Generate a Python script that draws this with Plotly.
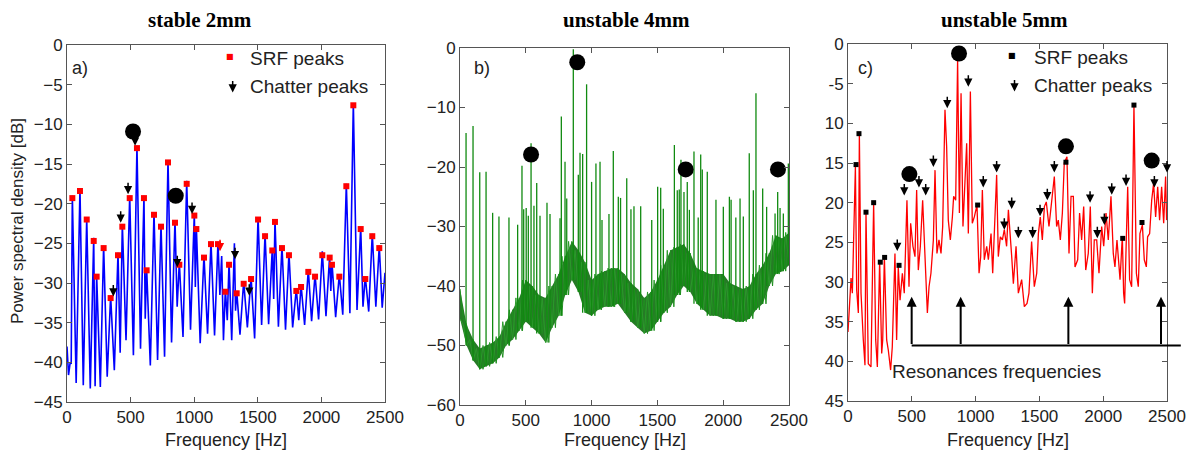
import plotly.graph_objects as go

# ---------------- panel a : stable 2mm ----------------
a_peak_f = [42, 102, 155, 210, 233, 288, 343, 401, 435, 493, 550, 605, 626, 684, 739, 794, 849, 883, 941,
            1001, 1017, 1077, 1132, 1187, 1216, 1245, 1274, 1316, 1334, 1389, 1447, 1502, 1557, 1614, 1635,
            1690, 1745, 1803, 1840, 1897, 1950, 2007, 2065, 2083, 2141, 2196, 2251, 2309, 2345, 2400, 2455]
a_peak_db = [-19.0, -18.1, -21.8, -24.3, -29.0, -25.3, -31.6, -26.2, -22.6, -19.0, -12.7, -19.0, -28.1, -21.1,
             -22.6, -14.5, -22.1, -27.4, -17.1, -21.2, -22.9, -26.5, -24.8, -24.8, -26.6, -30.8, -27.4, -25.0,
             -31.0, -29.8, -29.2, -21.7, -23.8, -25.6, -22.0, -25.3, -26.2, -30.7, -30.2, -28.3, -28.9, -26.0,
             -26.5, -27.4, -28.9, -17.5, -7.3, -22.9, -29.2, -23.8, -25.3]
a_trough_f = [0, 12, 25, 33, 72, 128, 183, 221, 262, 316, 372, 418, 464, 522, 578, 615, 655, 712, 767, 822,
              866, 912, 971, 1009, 1047, 1105, 1160, 1202, 1230, 1260, 1295, 1325, 1360, 1418, 1475, 1530,
              1585, 1625, 1662, 1718, 1774, 1822, 1868, 1923, 1978, 2036, 2074, 2112, 2168, 2224, 2280, 2327,
              2372, 2428, 2478, 2500]
a_trough_db = [-38.0, -41.6, -40.0, -40.2, -42.6, -42.9, -43.3, -43.0, -43.1, -41.8, -41.0, -38.8, -37.2,
               -39.1, -38.3, -34.5, -40.4, -39.7, -39.3, -37.5, -33.0, -36.8, -35.9, -30.5, -37.6, -36.4,
               -36.6, -31.5, -37.2, -34.7, -37.2, -33.5, -36.5, -35.6, -37.0, -35.3, -35.2, -32.0, -35.5,
               -35.9, -35.6, -34.7, -35.3, -34.8, -34.6, -34.2, -31.0, -34.3, -34.0, -33.8, -33.4, -33.0,
               -33.6, -33.0, -33.1, -28.7]
a_srf_f = [42, 102, 155, 210, 233, 288, 343, 401, 435, 493, 550, 605, 626, 684, 739, 794, 849, 883, 941,
           1001, 1017, 1077, 1132, 1187, 1245, 1274, 1334, 1389, 1447, 1502, 1557, 1614, 1635, 1690, 1745,
           1803, 1840, 1897, 1950, 2007, 2065, 2083, 2141, 2196, 2251, 2309, 2345, 2400, 2455]
a_srf_db = [-19.3, -18.4, -22.0, -24.7, -29.2, -25.6, -31.9, -26.5, -22.9, -19.3, -13.0, -19.3, -28.4, -21.4,
            -22.9, -14.8, -22.4, -27.7, -17.5, -21.5, -23.2, -26.8, -25.1, -25.1, -31.1, -27.7, -31.3, -30.1,
            -29.5, -22.0, -24.1, -25.9, -22.3, -25.6, -26.5, -31.0, -30.5, -28.6, -29.2, -26.5, -26.8, -27.7,
            -29.2, -17.8, -7.6, -23.2, -29.5, -24.1, -25.6]
a_chat_f = [364, 422, 480, 535, 867, 983, 1203, 1321, 1433]
a_chat_db = [-31.7, -22.4, -18.8, -12.7, -28.0, -21.3, -26.0, -27.0, -31.6]
a_chat_color = ["black", "black", "black", "black", "black", "black", "red", "black", "black"]
a_dot_f = [519, 855]
a_dot_db = [-10.9, -19.0]

# ---------------- panel b : unstable 4mm ----------------
b_grid_f = [0, 50, 100, 150, 200, 250, 300, 350, 400, 450, 500, 550, 600, 650, 700, 750, 800, 850, 900, 950,
            1000, 1050, 1100, 1150, 1200, 1250, 1300, 1350, 1400, 1450, 1500, 1550, 1600, 1650, 1700, 1750,
            1800, 1850, 1900, 1950, 2000, 2050, 2100, 2150, 2200, 2250, 2300, 2350, 2400, 2450, 2500]
b_hi = [-40.5, -46.5, -49.0, -50.5, -50.0, -49.5, -48.5, -46.0, -44.0, -42.0, -39.0, -40.0, -41.5, -42.0,
        -40.0, -38.0, -35.0, -32.5, -34.0, -36.0, -39.0, -38.0, -37.5, -37.0, -37.0, -38.0, -39.5, -40.5,
        -42.0, -41.0, -39.0, -36.5, -34.0, -33.5, -33.0, -34.5, -37.0, -37.5, -38.0, -38.0, -38.0, -39.5,
        -40.0, -40.5, -40.0, -38.0, -36.5, -34.5, -31.5, -32.0, -31.0]
b_lo = [-45.5, -50.0, -52.5, -54.0, -53.5, -53.0, -52.0, -50.0, -49.0, -47.5, -46.0, -47.0, -48.0, -49.5,
        -47.0, -45.0, -41.5, -39.0, -41.0, -44.5, -45.0, -44.0, -43.5, -43.5, -43.0, -44.5, -46.0, -47.0,
        -48.0, -47.5, -46.0, -44.5, -43.5, -41.5, -40.0, -41.0, -43.0, -44.0, -45.0, -45.0, -45.5, -45.5,
        -46.0, -46.0, -45.5, -44.0, -43.0, -40.0, -38.0, -37.5, -36.5]
b_spike_f = [46, 99, 150, 198, 248, 296, 372, 438, 471, 484, 503, 519, 540, 562, 583, 608, 661, 684, 760, 770,
             798, 811, 861, 899, 912, 932, 962, 1000, 1033, 1064, 1079, 1132, 1165, 1203, 1220, 1267, 1299,
             1322, 1373, 1457, 1502, 1525, 1545, 1629, 1651, 1666, 1679, 1702, 1727, 1743, 1778, 1810, 1829,
             1841, 1879, 1945, 2001, 2047, 2060, 2096, 2128, 2153, 2198, 2229, 2249, 2300, 2330, 2394, 2414,
             2432, 2457, 2495]
b_spike_db = [-14.3, -13.1, -20.9, -20.8, -27.7, -28.3, -28.5, -29.7, -19.8, -27.1, -26.9, -28.2, -16.0, -26.5,
              -22.7, -28.2, -26.0, -27.9, -28.6, -11.5, -19.1, -25.3, -0.2, -21.3, -17.6, -17.8, -6.1, -22.5,
              -19.4, -19.1, -28.9, -27.9, -17.3, -25.0, -25.2, -21.9, -27.1, -26.6, -26.6, -28.9, -23.3, -23.5,
              -27.0, -16.3, -23.9, -23.8, -18.8, -24.2, -22.5, -27.2, -17.4, -28.5, -17.9, -20.4, -20.8, -25.5,
              -26.7, -25.0, -25.5, -28.5, -25.3, -28.3, -17.7, -23.9, -7.6, -23.6, -26.7, -27.8, -24.2, -26.9,
              -27.8, -19.4]
b_dot_f = [540, 891, 1715, 2416]
b_dot_db = [-17.9, -2.4, -20.4, -20.4]

# ---------------- panel c : unstable 5mm ----------------
c_f = [0, 24, 34, 58, 68, 81, 89, 102, 120, 133, 141, 159, 180, 201, 217, 230, 248, 264, 272, 285, 303, 316,
       334, 347, 368, 381, 394, 408, 426, 441, 462, 478, 491, 509, 525, 538, 551, 567, 585, 603, 622, 635,
       650, 669, 682, 697, 713, 729, 742, 760, 773, 786, 802, 818, 828, 844, 859, 873, 886, 901, 917, 930,
       943, 959, 974, 990, 1011, 1027, 1040, 1053, 1068, 1087, 1100, 1121, 1134, 1147, 1165, 1178, 1194,
       1210, 1225, 1243, 1257, 1283, 1296, 1317, 1335, 1361, 1382, 1403, 1418, 1439, 1460, 1479, 1492, 1507,
       1523, 1539, 1554, 1575, 1591, 1617, 1635, 1648, 1664, 1680, 1695, 1716, 1732, 1748, 1766, 1779, 1800,
       1815, 1831, 1847, 1863, 1883, 1899, 1915, 1930, 1949, 1967, 1988, 2004, 2022, 2040, 2061, 2079, 2092,
       2108, 2132, 2150, 2160, 2168, 2178, 2192, 2207, 2223, 2241, 2260, 2275, 2288, 2307, 2322, 2338, 2348,
       2364, 2380, 2395, 2411, 2427, 2442, 2458, 2474, 2489, 2497]
c_db = [-36.3, -29.5, -31.4, -15.4, -31.0, -33.9, -11.3, -31.4, -37.3, -40.5, -21.1, -40.3, -40.7, -20.0,
        -37.3, -40.7, -27.4, -39.0, -37.3, -26.8, -37.3, -38.6, -41.1, -38.2, -26.4, -37.3, -28.1, -32.3,
        -28.9, -31.4, -19.7, -30.6, -22.6, -25.5, -26.8, -18.4, -28.5, -25.5, -19.7, -26.4, -33.9, -30.6,
        -28.9, -24.7, -15.9, -26.4, -24.7, -26.4, -23.0, -8.3, -12.9, -22.2, -24.7, -21.8, -19.2, -19.7,
        -2.0, -21.3, -6.2, -23.0, -17.6, -12.5, -23.9, -6.0, -22.6, -21.8, -20.3, -28.9, -26.8, -18.4,
        -27.2, -25.5, -27.2, -23.9, -28.9, -23.9, -16.5, -26.8, -24.3, -24.7, -23.4, -25.5, -20.9, -26.8,
        -30.2, -25.5, -31.4, -29.7, -33.1, -32.7, -31.4, -24.9, -30.6, -28.9, -23.9, -21.8, -24.7, -20.5,
        -19.9, -23.0, -20.5, -16.7, -23.0, -22.2, -24.7, -21.3, -15.0, -14.2, -26.4, -19.2, -19.2, -28.1,
        -27.2, -21.3, -24.7, -20.5, -28.5, -26.4, -20.5, -31.4, -24.7, -24.7, -28.9, -23.0, -25.5, -21.3,
        -24.7, -19.2, -26.4, -28.1, -24.7, -29.7, -24.2, -31.4, -32.7, -26.8, -18.0, -29.7, -30.6, -7.7,
        -28.9, -30.6, -23.9, -22.8, -27.2, -28.1, -24.3, -23.9, -19.7, -17.6, -21.8, -18.0, -22.2, -18.0,
        -22.6, -16.7, -22.2]
c_srf_f = [63, 86, 141, 201, 253, 287, 400, 1016, 1708, 2153, 2241, 2304]
c_srf_db = [-15.2, -11.3, -21.2, -20.0, -27.5, -26.9, -27.9, -20.3, -14.9, -24.5, -7.7, -22.5]
c_chat_f = [386, 441, 556, 609, 669, 778, 943, 1060, 1165, 1225, 1283, 1335, 1447, 1505, 1562, 1617, 1897,
            1954, 2009, 2067, 2179, 2401, 2500]
c_chat_db = [-26.1, -19.1, -18.1, -19.1, -15.5, -8.1, -5.4, -18.1, -16.2, -23.4, -20.8, -24.5, -24.5, -21.7,
             -19.7, -16.2, -20.0, -24.5, -22.8, -19.0, -17.9, -18.1, -16.2]
c_dot_f = [481, 870, 1708, 2380]
c_dot_db = [-16.4, -1.2, -12.9, -14.7]
c_res_f = [499, 883, 1727, 2453]
c_res_tip_db = -31.85
c_res_base_db = -38.0
c_res_end_f = 2620

x_ticks = [0, 500, 1000, 1500, 2000, 2500]
ya_ticks = [0, -5, -10, -15, -20, -25, -30, -35, -40, -45]
yb_ticks = [0, -10, -20, -30, -40, -50, -60]
yc_text = ["0", "-5", "10", "15", "20", "25", "30", "35", "40", "45"]

# ---------------- layout geometry (page pixels; the page body adds an 8 px margin) ----------------
W, H, OFF = 1187, 442, 8


def px_x(X):
    return (X - OFF) / W


def px_y(Y):
    return 1 - (Y - OFF) / H


def merge(f1, y1, f2, y2):
    pts = sorted(zip(list(f1) + list(f2), list(y1) + list(y2)), key=lambda p: p[0])
    return [p[0] for p in pts], [p[1] for p in pts]


SANS = "Liberation Sans"
TXT = "#222222"
fig = go.Figure()

# panel a
ax_f, ax_db = merge(a_peak_f, a_peak_db, a_trough_f, a_trough_db)
fig.add_trace(go.Scatter(x=ax_f, y=ax_db, mode="lines", line=dict(color="#0000ff", width=1.6),
                         xaxis="x", yaxis="y"))
fig.add_trace(go.Scatter(x=a_srf_f, y=a_srf_db, mode="markers",
                         marker=dict(symbol="square", size=6, color="#ff0000"), xaxis="x", yaxis="y"))
fig.add_trace(go.Scatter(x=a_dot_f, y=a_dot_db, mode="markers",
                         marker=dict(symbol="circle", size=16, color="black"), xaxis="x", yaxis="y"))

# panel b : noise floor band + dense zigzag + thin spikes
zz1_f, zz1_db, zz2_f, zz2_db = [], [], [], []
for k, f in enumerate(b_grid_f):
    zz1_f.append(f)
    zz1_db.append(b_hi[k])
    zz2_f.append(f)
    zz2_db.append(b_lo[k])
    if k < len(b_grid_f) - 1:
        zz1_f.append(f + 25)
        zz1_db.append(b_lo[k])
        zz2_f.append(f + 25)
        zz2_db.append(b_hi[k + 1])
sp_x, sp_y = [], []
for f, db in zip(b_spike_f, b_spike_db):
    base = b_lo[int(round(f / 50))]
    sp_x += [f, f, None]
    sp_y += [base, db, None]
fig.add_trace(go.Scatter(x=b_grid_f, y=b_lo, mode="lines", line=dict(width=0, color="#006400"),
                         xaxis="x2", yaxis="y2"))
fig.add_trace(go.Scatter(x=b_grid_f, y=b_hi, mode="lines", line=dict(width=0, color="#006400"),
                         fill="tonexty", fillcolor="rgba(0,100,0,0.85)", xaxis="x2", yaxis="y2"))
fig.add_trace(go.Scatter(x=zz1_f, y=zz1_db, mode="lines", line=dict(color="#1f8f1f", width=1),
                         xaxis="x2", yaxis="y2"))
fig.add_trace(go.Scatter(x=zz2_f, y=zz2_db, mode="lines", line=dict(color="#2a9a2a", width=1),
                         xaxis="x2", yaxis="y2"))
fig.add_trace(go.Scatter(x=sp_x, y=sp_y, mode="lines", line=dict(color="#108a10", width=1.3),
                         xaxis="x2", yaxis="y2"))
fig.add_trace(go.Scatter(x=b_dot_f, y=b_dot_db, mode="markers",
                         marker=dict(symbol="circle", size=16, color="black"), xaxis="x2", yaxis="y2"))

# panel c
fig.add_trace(go.Scatter(x=c_f, y=c_db, mode="lines", line=dict(color="#ff0000", width=1.3),
                         xaxis="x3", yaxis="y3"))
fig.add_trace(go.Scatter(x=c_srf_f, y=c_srf_db, mode="markers",
                         marker=dict(symbol="square", size=5, color="black"), xaxis="x3", yaxis="y3"))
fig.add_trace(go.Scatter(x=c_dot_f, y=c_dot_db, mode="markers",
                         marker=dict(symbol="circle", size=16, color="black"), xaxis="x3", yaxis="y3"))

ann = []


def chatter(f, db, xr, yr, color="black"):
    return dict(x=f, y=db, xref=xr, yref=yr, text="", showarrow=True, arrowhead=2, arrowsize=1.1,
                arrowwidth=1.5, arrowcolor=color, ax=0, ay=-13)


for f, db, col in zip(a_chat_f, a_chat_db, a_chat_color):
    ann.append(chatter(f, db, "x", "y", col))
for f, db in zip(c_chat_f, c_chat_db):
    ann.append(chatter(f, db, "x3", "y3"))

# resonance bracket in panel c
for f in c_res_f:
    ann.append(dict(x=f, y=c_res_tip_db, xref="x3", yref="y3", ax=f, ay=c_res_base_db, axref="x3",
                    ayref="y3", text="", showarrow=True, arrowhead=2, arrowsize=1, arrowwidth=2,
                    arrowcolor="black"))
ann.append(dict(x=c_res_f[0], y=c_res_base_db, xref="x3", yref="y3", ax=c_res_end_f, ay=c_res_base_db,
                axref="x3", ayref="y3", text="", showarrow=True, arrowhead=0, arrowwidth=2,
                arrowcolor="black"))
ann.append(dict(x=1160, y=-41.3, xref="x3", yref="y3", text="Resonances frequencies", showarrow=False,
                xanchor="center", yanchor="middle", font=dict(family=SANS, size=19, color=TXT)))

# legends (panel a and c)
for xr, yr, sq_col, xs, xt in [("x domain", "y domain", "#ff0000", 0.513, 0.569),
                               ("x3 domain", "y3 domain", "black", 0.514, 0.577)]:
    ann.append(dict(x=xs, y=0.969, xref=xr, yref=yr, text="■", showarrow=False, xanchor="center",
                    yanchor="middle", font=dict(family="DejaVu Sans", size=8, color=sq_col)))
    ann.append(dict(x=xt, y=0.961, xref=xr, yref=yr, text="SRF peaks", showarrow=False, xanchor="left",
                    yanchor="middle", font=dict(family=SANS, size=19, color=TXT)))
    ann.append(dict(x=xs + 0.008, y=0.867, xref=xr, yref=yr, text="", showarrow=True, arrowhead=2,
                    arrowsize=1.1, arrowwidth=1.5, arrowcolor="black", ax=0, ay=-13))
    ann.append(dict(x=xt, y=0.885, xref=xr, yref=yr, text="Chatter peaks", showarrow=False,
                    xanchor="left", yanchor="middle", font=dict(family=SANS, size=19, color=TXT)))

# panel labels
for lab, xr, yr, xd, yd in [("a)", "x domain", "y domain", 0.041, 0.936),
                            ("b)", "x2 domain", "y2 domain", 0.067, 0.944),
                            ("c)", "x3 domain", "y3 domain", 0.056, 0.933)]:
    ann.append(dict(x=xd, y=yd, xref=xr, yref=yr, text=lab, showarrow=False, xanchor="center",
                    yanchor="middle", font=dict(family=SANS, size=18, color=TXT)))

# x-axis titles
for xr, yr, yd in [("x domain", "y domain", -0.106), ("x2 domain", "y2 domain", -0.098),
                   ("x3 domain", "y3 domain", -0.109)]:
    ann.append(dict(x=0.5, y=yd, xref=xr, yref=yr, text="Frequency [Hz]", showarrow=False,
                    xanchor="center", yanchor="middle", font=dict(family=SANS, size=18, color=TXT)))

# titles
for t, X in [("stable 2mm", 200), ("unstable 4mm", 627), ("unstable 5mm", 1005)]:
    ann.append(dict(x=px_x(X), y=px_y(20), xref="paper", yref="paper", text="<b>" + t + "</b>",
                    showarrow=False, xanchor="center", yanchor="middle",
                    font=dict(family="Liberation Serif", size=21, color="black")))

# y title
ann.append(dict(x=px_x(17), y=px_y(221), xref="paper", yref="paper", text="Power spectral density [dB]",
                textangle=-90, showarrow=False, xanchor="center", yanchor="middle",
                font=dict(family=SANS, size=17, color=TXT)))


def axstyle(**kw):
    d = dict(showgrid=False, zeroline=False, showline=True, linecolor="#555555", linewidth=1,
             mirror="ticks", ticks="inside", ticklen=5, tickcolor="#555555", automargin=False,
             tickfont=dict(family=SANS, size=17, color=TXT))
    d.update(kw)
    return d


fig.update_layout(
    width=W, height=H, template="none",
    paper_bgcolor="white", plot_bgcolor="white",
    margin=dict(l=0, r=0, t=0, b=0),
    showlegend=False,
    xaxis=axstyle(domain=[px_x(67), px_x(385)], range=[0, 2500], tickvals=x_ticks, anchor="y"),
    yaxis=axstyle(domain=[px_y(402), px_y(45)], range=[-45, 0], tickvals=ya_ticks, anchor="x"),
    xaxis2=axstyle(domain=[px_x(460), px_x(789)], range=[0, 2500], tickvals=x_ticks, anchor="y2"),
    yaxis2=axstyle(domain=[px_y(405), px_y(48)], range=[-60, 0], tickvals=yb_ticks, anchor="x2"),
    xaxis3=axstyle(domain=[px_x(848), px_x(1167)], range=[0, 2500], tickvals=x_ticks, anchor="y3"),
    yaxis3=axstyle(domain=[px_y(401), px_y(44)], range=[-45, 0], tickvals=ya_ticks, ticktext=yc_text,
                   anchor="x3"),
    annotations=ann,
)

fig.write_html("out.html")
